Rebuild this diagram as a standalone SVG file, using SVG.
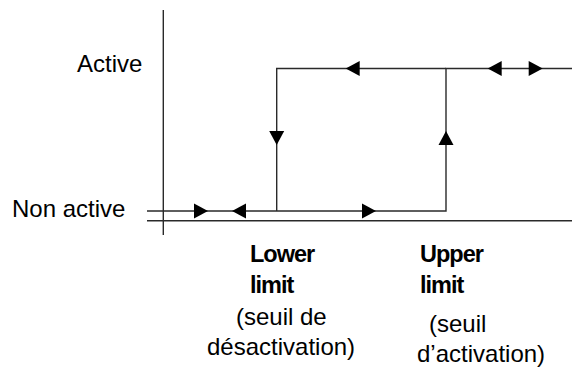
<svg xmlns="http://www.w3.org/2000/svg" xmlns:xlink="http://www.w3.org/1999/xlink" width="572" height="367" viewBox="0 0 572 367">
<style>
.ln{stroke:#2a2a2a;stroke-width:1.4;fill:none}
.t{font-family:"Liberation Sans",Arial,sans-serif;font-size:24px;fill:#000}
.b{font-family:"Liberation Sans",Arial,sans-serif;font-size:23.5px;font-weight:bold;fill:#000;letter-spacing:-1px}
</style>
<defs>
<path id="ah" d="M0,0 L-14,-7.5 L-14,7.5 Z" fill="#000"/>
</defs>
<rect width="572" height="367" fill="#fff"/>
<g id="axes">
<line class="ln" x1="163.3" y1="10" x2="163.3" y2="235"/>
<line class="ln" x1="147" y1="220.7" x2="572" y2="220.7"/>
</g>
<g id="labels">
<text class="t" x="77" y="72">Active</text>
<text class="t" x="12" y="217">Non active</text>
</g>
<g id="lower-limit">
<text class="b" x="250" y="262">Lower</text>
<text class="b" x="250" y="293">limit</text>
<text class="t" x="236" y="325">(seuil de</text>
<text class="t" x="207" y="355">désactivation)</text>
</g>
<g id="upper-limit">
<text class="b" x="420" y="262">Upper</text>
<text class="b" x="420" y="293">limit</text>
<text class="t" x="429" y="332">(seuil</text>
<text class="t" x="417" y="362">d’activation)</text>
</g>
<g id="connectors">
<polyline class="ln" points="147,211 446,211 446,68.5 572,68.5"/>
<polyline class="ln" points="446,68.5 276.7,68.5 276.7,211"/>
<use xlink:href="#ah" transform="translate(208,211)"/>
<use xlink:href="#ah" transform="translate(376,211)"/>
<use xlink:href="#ah" transform="translate(542.7,68.5)"/>
<use xlink:href="#ah" transform="translate(232,211) rotate(180)"/>
<use xlink:href="#ah" transform="translate(345.7,68.5) rotate(180)"/>
<use xlink:href="#ah" transform="translate(487.7,68.5) rotate(180)"/>
<use xlink:href="#ah" transform="translate(276.7,145) rotate(90)"/>
<use xlink:href="#ah" transform="translate(446,131) rotate(-90)"/>
</g>
</svg>
